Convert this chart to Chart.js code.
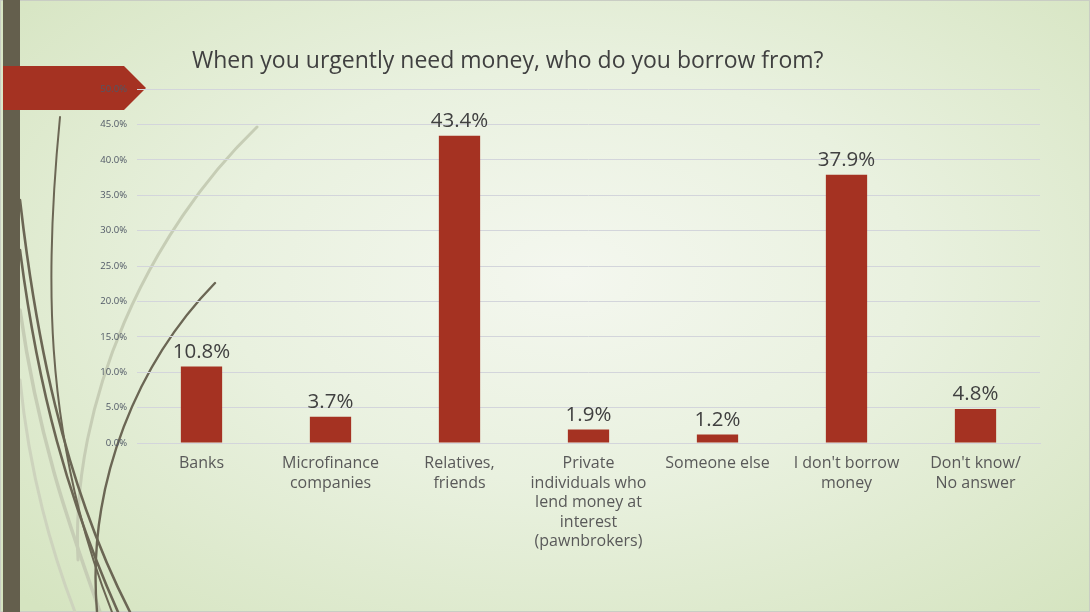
<!DOCTYPE html>
<html>
<head>
<meta charset="utf-8">
<title>Borrowing sources</title>
<script src="https://cdn.jsdelivr.net/npm/chart.js@4.4.1/dist/chart.umd.min.js"></script>
<style>
  html, body { margin: 0; padding: 0; }
  body {
    width: 1090px; height: 612px; overflow: hidden; position: relative;
    background: radial-gradient(ellipse 70% 75% at 52% 45%, #f4f7ef 0%, #e9f1df 45%, #d5e4c0 100%);
  }
  #deco { position: absolute; left: 0; top: 0; }
  #wrap { position: absolute; left: 0; top: 0; width: 1090px; height: 612px; }
</style>
</head>
<body>
<!-- slide decoration: side band, ribbon and grass-like strokes -->
<svg id="deco" width="1090" height="612" viewBox="0 0 1090 612">
  <rect x="0.5" y="0.5" width="1089" height="611" fill="none" stroke="#c9cdc4" stroke-width="1"/>
  <g fill="none" stroke-linecap="round">
    <path d="M257,127 C150,230 70,400 78,560" stroke="#c6cdb5" stroke-width="3"/>
    <path d="M20,310 C40,450 75,540 100,612" stroke="#c6cdb5" stroke-width="3.5"/>
    <path d="M20,380 C30,480 55,560 75,612" stroke="#cdd3bd" stroke-width="3"/>
    <path d="M60,117 C46,260 40,430 112,612" stroke="#6b6654" stroke-width="2"/>
    <path d="M20,200 C35,330 62,480 130,612" stroke="#6b6654" stroke-width="2.6"/>
    <path d="M20,250 C38,390 68,500 118,612" stroke="#6b6654" stroke-width="2.6"/>
    <path d="M97,612 C86,480 140,360 215,283" stroke="#6b6654" stroke-width="2.4"/>
  </g>
  <rect x="3" y="0" width="17" height="612" fill="#645f4d"/>
  <polygon points="3,66 124,66 146,88 124,110 3,110" fill="#a53222"/>
</svg>
<div id="wrap"><canvas id="chart" width="1090" height="612"></canvas></div>
<script>
// survey answers
const categories = [
  ["Banks"],
  ["Microfinance", "companies"],
  ["Relatives,", "friends"],
  ["Private", "individuals who", "lend money at", "interest", "(pawnbrokers)"],
  ["Someone else"],
  ["I don't borrow", "money"],
  ["Don't know/", "No answer"]
];
const shares = [10.8, 3.7, 43.4, 1.9, 1.2, 37.9, 4.8];

const chartTitle = "When you urgently need money, who do you borrow from?";
const yMin = 0, yMax = 50, yStep = 5;

const FONT = "'Open Sans', 'Noto Sans', sans-serif";

// title text at the top of the slide
const titlePlugin = {
  id: 'slideTitle',
  afterDraw(chart) {
    const ctx = chart.ctx;
    ctx.save();
    ctx.font = "23px " + FONT;
    ctx.fillStyle = "#404040";
    ctx.textAlign = "left";
    ctx.textBaseline = "alphabetic";
    ctx.fillText(chartTitle, 192, 68);
    ctx.restore();
  }
};

// value labels above each bar
const valueLabels = {
  id: 'valueLabels',
  afterDatasetsDraw(chart) {
    const ctx = chart.ctx;
    const meta = chart.getDatasetMeta(0);
    ctx.save();
    ctx.font = "20.5px " + FONT;
    ctx.fillStyle = "#404040";
    ctx.textAlign = "center";
    ctx.textBaseline = "alphabetic";
    meta.data.forEach((bar, i) => {
      const v = chart.data.datasets[0].data[i];
      ctx.fillText(v.toFixed(1) + "%", bar.x, bar.y - 9);
    });
    ctx.restore();
  }
};

new Chart(document.getElementById('chart'), {
  type: 'bar',
  data: {
    labels: categories,
    datasets: [{
      data: shares,
      backgroundColor: '#a53222',
      borderWidth: 0,
      barPercentage: 0.32,
      categoryPercentage: 1.0
    }]
  },
  options: {
    responsive: false,
    animation: false,
    layout: { padding: { top: 89, right: 50, bottom: 49, left: 0 } },
    plugins: {
      legend: { display: false },
      title: { display: false },
      tooltip: { enabled: false }
    },
    scales: {
      x: {
        grid: { display: false, drawTicks: false },
        border: { display: true, color: '#d3d5db', width: 1 },
        ticks: {
          color: '#595959',
          font: { family: FONT, size: 16, lineHeight: 1.22 },
          padding: 11,
          maxRotation: 0,
          autoSkip: false
        },
        afterFit(scale) { scale.height = 120; }
      },
      y: {
        min: yMin, max: yMax,
        grid: { color: '#d3d5db', lineWidth: 1, drawTicks: false },
        border: { display: false },
        ticks: {
          stepSize: yStep,
          color: '#505866',
          font: { family: FONT, size: 9.5 },
          padding: 10,
          callback: v => v.toFixed(1) + '%'
        },
        afterFit(scale) { scale.width = 137; }
      }
    }
  },
  plugins: [titlePlugin, valueLabels]
});
</script>
</body>
</html>
